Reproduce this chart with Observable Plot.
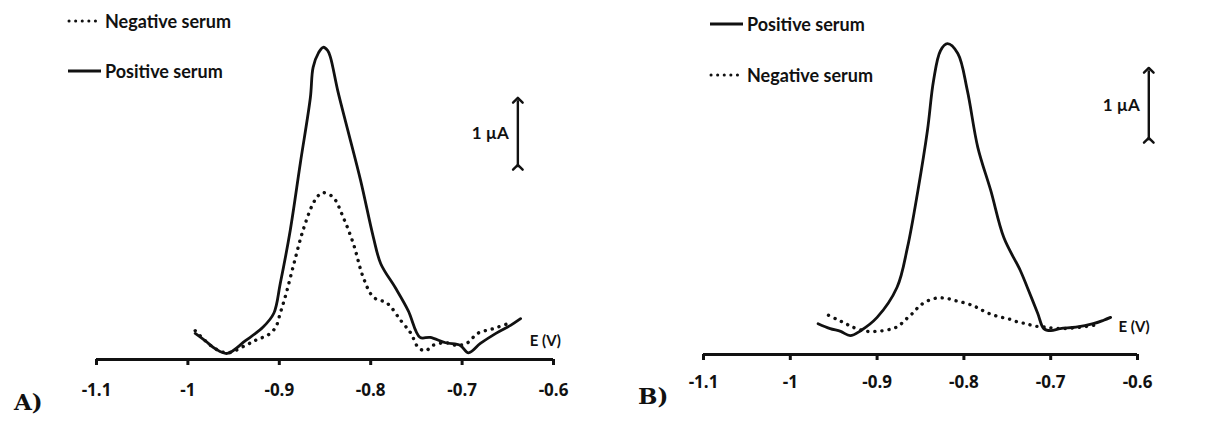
<!DOCTYPE html>
<html><head><meta charset="utf-8">
<script src="https://cdn.jsdelivr.net/npm/d3@7"></script>
<script src="https://cdn.jsdelivr.net/npm/@observablehq/plot@0.6"></script>
<style>
body{margin:0;background:#fff;}
#wrap{position:relative;width:1230px;height:421px;font-family:Lato,"Open Sans",sans-serif;color:#111;}
.panel{position:absolute;top:0;}
.leg{position:absolute;display:flex;align-items:center;font-weight:700;font-size:18px;line-height:22px;white-space:nowrap;}
.leg svg{margin-right:2px;}
.tag{position:absolute;font-family:"DejaVu Serif",serif;font-weight:700;font-size:23px;line-height:26px;}
</style></head>
<body>
<div id="wrap"></div>
<script>
// E (V) vs current (µA, relative to the axis baseline)
const xTicks = [-1.1, -1, -0.9, -0.8, -0.7, -0.6];

const positiveA = [[-0.992,0.39],[-0.981,0.28],[-0.970,0.16],[-0.957,0.09],[-0.937,0.28],[-0.918,0.48],[-0.906,0.69],[-0.899,1.13],[-0.888,1.93],[-0.877,2.93],[-0.866,3.91],[-0.863,4.36],[-0.857,4.58],[-0.852,4.66],[-0.847,4.61],[-0.844,4.51],[-0.836,4.01],[-0.825,3.42],[-0.811,2.67],[-0.797,1.82],[-0.789,1.43],[-0.773,1.07],[-0.759,0.73],[-0.746,0.33],[-0.735,0.33],[-0.718,0.25],[-0.702,0.21],[-0.693,0.10],[-0.680,0.24],[-0.663,0.39],[-0.647,0.51],[-0.636,0.61]];
const negativeA = [[-0.992,0.43],[-0.981,0.28],[-0.970,0.16],[-0.956,0.10],[-0.937,0.21],[-0.924,0.30],[-0.913,0.36],[-0.904,0.48],[-0.899,0.69],[-0.893,0.96],[-0.884,1.43],[-0.874,1.93],[-0.863,2.33],[-0.857,2.45],[-0.852,2.49],[-0.841,2.42],[-0.830,2.12],[-0.819,1.73],[-0.808,1.22],[-0.797,0.93],[-0.782,0.84],[-0.767,0.58],[-0.756,0.39],[-0.748,0.18],[-0.740,0.13],[-0.732,0.21],[-0.718,0.25],[-0.705,0.21],[-0.694,0.25],[-0.683,0.39],[-0.666,0.46],[-0.647,0.55]];
const positiveB = [[-0.968,0.44],[-0.954,0.37],[-0.942,0.33],[-0.931,0.27],[-0.919,0.34],[-0.900,0.53],[-0.877,0.96],[-0.865,1.53],[-0.853,2.34],[-0.842,3.20],[-0.835,3.91],[-0.827,4.34],[-0.819,4.44],[-0.807,4.30],[-0.796,3.77],[-0.784,2.96],[-0.769,2.34],[-0.754,1.67],[-0.735,1.20],[-0.727,0.96],[-0.715,0.59],[-0.708,0.37],[-0.700,0.34],[-0.689,0.37],[-0.671,0.39],[-0.651,0.44],[-0.639,0.49],[-0.631,0.53]];
const negativeB = [[-0.956,0.56],[-0.946,0.50],[-0.936,0.44],[-0.928,0.39],[-0.911,0.33],[-0.902,0.33],[-0.893,0.34],[-0.882,0.37],[-0.875,0.41],[-0.867,0.50],[-0.859,0.59],[-0.853,0.67],[-0.847,0.73],[-0.837,0.79],[-0.828,0.81],[-0.819,0.80],[-0.810,0.77],[-0.800,0.74],[-0.790,0.70],[-0.783,0.66],[-0.774,0.60],[-0.765,0.56],[-0.756,0.53],[-0.746,0.50],[-0.737,0.46],[-0.728,0.44],[-0.720,0.41],[-0.706,0.39],[-0.689,0.37],[-0.666,0.39],[-0.643,0.43]];

// 1 µA scale bars and axis label anchors (data coordinates)
const scaleBarA = {E: -0.639, from: 2.87, to: 3.87};
const scaleBarB = {E: -0.587, from: 3.06, to: 4.06};
const axisLabelA = {E: -0.626, I: 0.27};
const axisLabelB = {E: -0.622, I: 0.39};

const legendA = [{name: "Negative serum", dotted: true}, {name: "Positive serum", dotted: false}];
const legendB = [{name: "Positive serum", dotted: false}, {name: "Negative serum", dotted: true}];

const fmt = d => String(d);
const dotted = {strokeDasharray: "0.1 7", strokeLinecap: "round", strokeWidth: 3.4, stroke: "#111"};
const solid = {strokeWidth: 2.8, stroke: "#111", strokeLinejoin: "round"};

function panel(opts, pos, neg, bar, lab) {
  return Plot.plot({
    width: 615, height: 421,
    marginLeft: opts.ml, marginRight: opts.mr, marginTop: opts.mt, marginBottom: opts.mb,
    x: {domain: [-1.1, -0.6], axis: null},
    y: {domain: [0, 5], axis: null},
    style: {background: "transparent", overflow: "visible", color: "#111", fontFamily: "Lato, 'Open Sans', sans-serif"},
    marks: [
      Plot.axisX({ticks: xTicks, tickSize: 6, tickFormat: () => "", strokeWidth: 3, stroke: "#111"}),
      Plot.ruleY([0], {stroke: "#111", strokeWidth: 3}),
      Plot.text(xTicks, {x: d => d, y: 0, dy: opts.ld, text: fmt, fontSize: 17, fontWeight: "bold", fontFamily: "'Open Sans', sans-serif", fill: "#111"}),
      Plot.line(neg, {x: d => d[0], y: d => d[1], curve: "catmull-rom", ...dotted}),
      Plot.line(pos, {x: d => d[0], y: d => d[1], curve: "catmull-rom", ...solid}),
      Plot.link([bar], {x1: d => d.E, x2: d => d.E, y1: d => d.from, y2: d => d.to, markerStart: "arrow", markerEnd: "arrow", strokeWidth: 2.4, stroke: "#111"}),
      Plot.text([bar], {x: d => d.E, y: d => (d.from + d.to) / 2, text: () => "1 µA", textAnchor: "end", dx: -9, fontSize: 17, fontWeight: "bold"}),
      Plot.text([lab], {x: d => d.E, y: d => d.I, text: () => "E (V)", textAnchor: "start", fontSize: 15, fontWeight: "bold"})
    ]
  });
}

const wrap = document.getElementById("wrap");
const pA = panel({ml: 96, mr: 62, mt: 24, mb: 62, ld: 31}, positiveA, negativeA, scaleBarA, axisLabelA);
pA.classList.add("panel"); pA.style.left = "0px";
const pB = panel({ml: 88, mr: 93, mt: 4, mb: 67, ld: 28}, positiveB, negativeB, scaleBarB, axisLabelB);
pB.classList.add("panel"); pB.style.left = "615px";
wrap.append(pA, pB);

function legend(items, left, tops) {
  items.forEach((it, i) => {
    const div = document.createElement("div");
    div.className = "leg";
    div.style.left = left + "px";
    div.style.top = tops[i] + "px";
    const sw = it.dotted
      ? `<svg width="36" height="8"><line x1="2" y1="4" x2="34" y2="4" stroke="#111" stroke-width="3" stroke-linecap="round" stroke-dasharray="0.1 6.5"/></svg>`
      : `<svg width="36" height="8"><line x1="1" y1="4" x2="34" y2="4" stroke="#111" stroke-width="3"/></svg>`;
    div.innerHTML = sw + `<span>${it.name}</span>`;
    wrap.append(div);
  });
}
legend(legendA, 67, [10, 60]);
legend(legendB, 709, [13, 64]);

const tA = document.createElement("div"); tA.className = "tag"; tA.textContent = "A)"; tA.style.left = "14px"; tA.style.top = "389px";
const tB = document.createElement("div"); tB.className = "tag"; tB.textContent = "B)"; tB.style.left = "638px"; tB.style.top = "383px";
wrap.append(tA, tB);
</script>
</body></html>
